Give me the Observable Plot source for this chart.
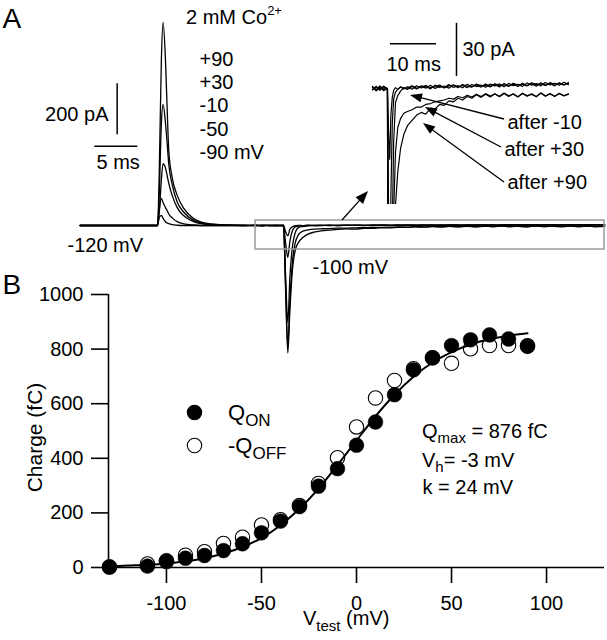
<!DOCTYPE html>
<html>
<head>
<meta charset="utf-8">
<script src="https://cdn.jsdelivr.net/npm/d3@7"></script>
<script src="https://cdn.jsdelivr.net/npm/@observablehq/plot@0.6"></script>
<style>
  html, body { margin: 0; padding: 0; background: #fff; }
  #fig { position: relative; width: 607px; height: 640px; overflow: hidden; }
  #fig svg { position: absolute; left: 0; top: 0; }
</style>
</head>
<body>
<div id="fig"></div>
<script>
// ---------------- DATA ----------------
// Panel A: gating current traces (time in ms from the ON step, current in pA)
const timeMs = [-9, -4, 0, 0.2, 0.45, 0.65, 0.93, 1.13, 1.31, 1.71, 2.29, 3.06, 4.2, 5.8, 8, 10,
  11.4, 12.2, 13.0, 13.8,
  14.65, 14.9, 15.15, 15.4, 15.7, 16.0, 16.4, 16.9, 17.5, 18.2,
  19, 20, 21, 22, 23, 24, 25, 26, 27, 28, 29, 30, 31, 32, 33, 34, 35, 36, 37, 38, 39, 40,
  41, 42, 43, 44, 45, 46, 47, 48, 49, 50, 51, 52, 53, 54];
const traceLabels = ["+90", "+30", "-10", "-50", "-90"];
const currentP90 = [0, 0, 0, 200, 650, 796, 647, 451, 294, 188, 118, 67, 27, 8, 2, 0.5,
  0.5, -1.2, 1.5, -0.8,
  0, -260, -500, -330, -170, -100, -66, -47, -34, -26,
  -21, -18, -15, -13.5, -14.5, -11, -11.5, -9, -9.5, -7, -7.5, -5.5, -6.5, -4.5, -5.5, -3.5, -5, -3.2,
  -4.8, -3, -4.6, -2.8, -4.5, -3, -4.8, -2.7, -4.4, -2.9, -4.7, -2.6, -4.3, -2.8, -4.5, -2.7, -4.2, -3];
const currentP30 = [0, 0, 0, 120, 400, 475, 400, 320, 240, 160, 92, 52, 20, 5, 1, 0,
  -0.8, 1.2, -1.0, 0.9,
  0, -240, -470, -290, -140, -70, -36, -22, -17, -14,
  -13, -12, -10.5, -10.5, -9, -8.5, -7.5, -7, -6.5, -5.5, -6, -4.5, -5.2, -3.8, -4.8, -3.2, -4.5, -2.9,
  -4.2, -3.1, -4.4, -2.6, -4.1, -3.2, -4.6, -2.8, -4, -3.3, -4.5, -2.5, -4.2, -3.1, -4.4, -2.9, -4, -3.3];
const currentM10 = [0, 0, 0, 50, 180, 243, 225, 195, 165, 118, 70, 38, 15, 4, 0.5, 0,
  1.2, -0.5, 0.8, -1.2,
  0, -200, -380, -200, -80, -30, -8, -4, -1.5, 0.5,
  -0.5, 1.2, -0.3, 1.5, 0.2, 1.8, 0, 1.3, 0.5, 2.2, 0.6, 1.6, 0.4, 2.4, 1.0, 2.0, 0.8, 2.6,
  1.2, 2.2, 0.9, 2.8, 1.4, 2.5, 1.1, 3.0, 1.6, 2.7, 1.3, 3.2, 1.8, 2.9, 1.5, 3.3, 2.0, 3.0];
const currentM50 = [0, 0, 0, 60, 106, 90, 70, 58, 45, 30, 15, 6, 2, 0, 0, 0,
  -0.6, 1.0, -0.4, 1.3,
  0, -70, -125, -60, -20, -6, -2, -0.5, 0.8, -0.3,
  1.0, -0.4, 1.6, 0.3, 1.2, -0.2, 1.9, 0.6, 1.4, 0.2, 2.1, 0.9, 1.7, 0.5, 2.3, 1.1, 1.9, 0.7,
  2.5, 1.4, 2.6, 1.0, 2.9, 1.6, 2.4, 1.2, 3.1, 1.9, 2.8, 1.5, 3.4, 2.0, 3.0, 1.8, 3.5, 2.2];
const currentM90 = [0, 0, 0, 30, 40, 28, 15, 10, 7, 3, 1, 0, 0, 0, 0, 0,
  0.9, -1.3, 0.4, -0.2,
  0, -25, -40, -15, -5, -1, 0.5, -0.5, 1, 0,
  0.2, 1.5, 0.1, 0.9, 1.7, 0.4, 1.1, 2.0, 0.3, 1.5, 1.8, 0.5, 2.2, 1.3, 0.8, 2.5, 1.5, 1.9,
  0.9, 2.7, 1.6, 2.1, 1.2, 3.0, 1.9, 2.4, 1.5, 3.2, 2.2, 2.6, 1.7, 3.3, 2.4, 2.9, 2.0, 3.4];

// Panel B: charge–voltage
const vTest = [-130, -110, -100, -90, -80, -70, -60, -50, -40, -30, -20, -10, 0, 10, 20, 30, 40, 50, 60, 70, 80, 90];
const qOn   = [2, 5, 25, 34, 44, 62, 87, 127, 170, 223, 298, 362, 448, 533, 633, 724, 768, 813, 834, 852, 837, 810];
const qOff  = [2, 13, 22, 45, 58, 88, 111, 156, 175, 227, 308, 402, 515, 621, 685, 728, 768, 748, 801, 813, 813, 812];
const fitV  = [-130, -120, -110, -100, -90, -80, -70, -60, -50, -40, -30, -20, -10, 0, 10, 20, 30, 40, 50, 60, 70, 80, 90];
const fitQ  = [4, 7, 10, 15, 23, 34, 51, 75, 108, 155, 215, 289, 375, 465, 554, 633, 699, 751, 789, 817, 836, 849, 858];
const xTicks = [-100, -50, 0, 50, 100];
const yTicks = [0, 200, 400, 600, 800, 1000];

// ---------------- HELPERS ----------------
const FONT = "'Liberation Sans', Arial, Helvetica, sans-serif";
const fig = document.getElementById("fig");
const put = (node) => { fig.appendChild(node); return node; };

const traces = [currentP90, currentP30, currentM10, currentM50, currentM90];
const rows = traces.flatMap((arr, k) => timeMs.map((t, i) => ({t, I: arr[i], v: traceLabels[k]})));
const qRows = vTest.map((v, i) => ({v, on: qOn[i], off: qOff[i]}));
const fitRows = fitV.map((v, i) => ({v, q: fitQ[i]}));

function richText(items) {
  return (index, scales) => {
    const sx = (scales && scales.x) || (v => v);
    const sy = (scales && scales.y) || (v => v);
    const g = d3.create("svg:g").attr("font-family", FONT).attr("fill", "black");
    for (const it of items) {
      const t = g.append("text").attr("x", sx(it.x)).attr("y", sy(it.y))
        .attr("font-size", it.size).attr("text-anchor", it.anchor || "start");
      let shift = 0;
      for (const p of it.parts) {
        const ts = t.append("tspan").text(p.s).attr("font-size", p.size || it.size);
        const target = p.dy || 0;
        if (target !== shift) { ts.attr("dy", target - shift); shift = target; }
      }
    }
    return g.node();
  };
}

function filledArrows(list) {
  return (index, scales) => {
    const sx = (scales && scales.x) || (v => v);
    const sy = (scales && scales.y) || (v => v);
    const g = d3.create("svg:g");
    for (const a of list) {
      const x1 = sx(a.x1), y1 = sy(a.y1), x2 = sx(a.x2), y2 = sy(a.y2);
      const dx = x2 - x1, dy = y2 - y1, L = Math.hypot(dx, dy);
      const ux = dx / L, uy = dy / L, h = a.head || 12, w = a.half || 4.5;
      const bx = x2 - ux * h, by = y2 - uy * h;
      g.append("line").attr("x1", x1).attr("y1", y1).attr("x2", bx + ux).attr("y2", by + uy)
        .attr("stroke", "black").attr("stroke-width", 1.3);
      g.append("polygon")
        .attr("points", `${x2},${y2} ${bx - uy * w},${by + ux * w} ${bx + uy * w},${by - ux * w}`)
        .attr("fill", "black");
    }
    return g.node();
  };
}

// ---------------- PANEL B ----------------
put(Plot.plot({
  width: 607, height: 640,
  marginLeft: 108, marginRight: 3, marginTop: 294, marginBottom: 73,
  x: {domain: [-130.5, 130.5]},
  y: {domain: [0, 1000]},
  style: {fontFamily: FONT, fontSize: "20px", background: "white", color: "black"},
  marks: [
    Plot.ruleY([0], {strokeWidth: 1.6}),
    Plot.ruleX([-130.5], {y1: 0, y2: 1000, strokeWidth: 1.6}),
    Plot.axisX({ticks: xTicks, tickSize: 16, tickPadding: 12, fontSize: 20, strokeWidth: 1.6,
      label: null, tickFormat: d => `${d}`}),
    Plot.axisY({ticks: yTicks, tickSize: 17, tickPadding: 8, fontSize: 20, strokeWidth: 1.6,
      label: null, tickFormat: d => `${d}`}),
    Plot.line(fitRows, {x: "v", y: "q", curve: "monotone-x", strokeWidth: 2, stroke: "black"}),
    Plot.dot(qRows, {x: "v", y: "off", r: 7.2, stroke: "black", strokeWidth: 1.1, fill: "none"}),
    Plot.dot(qRows, {x: "v", y: "on", r: 7.4, fill: "black", stroke: "black", strokeWidth: 0.5})
  ]
}));

// ---------------- PANEL A (main traces) ----------------
put(Plot.plot({
  width: 607, height: 360, margin: 0,
  x: {domain: [-18.256, 52.326], axis: null},
  y: {domain: [-529.4, 882.35], axis: null},
  style: {background: "transparent"},
  marks: [
    Plot.line(rows.filter(d => d.t <= 52), {x: "t", y: "I", z: "v", stroke: "black",
      strokeWidth: 1.3, curve: "monotone-x"}),
    // zoom window drawn over the OFF tail
    Plot.rect([0], {x1: 11.4, x2: 51.98, y1: -94.1, y2: 19.6, fill: "none", stroke: "#9a9a9a", strokeWidth: 1.5}),
    // scale bars: 200 pA and 5 ms
    Plot.ruleX([-4.69], {y1: 355.7, y2: 555.7, strokeWidth: 1.5}),
    Plot.ruleY([311], {x1: -7.29, x2: -2.29, strokeWidth: 1.5})
  ]
}));

// ---------------- PANEL A (inset) ----------------
put(Plot.plot({
  width: 607, height: 204, margin: 0,
  x: {domain: [-69.47, 62.49], axis: null},
  y: {domain: [-65.5, 49.7], axis: null},
  style: {background: "transparent"},
  marks: [
    Plot.line(rows.filter(d => d.t >= 11.4), {x: "t", y: "I", z: "v", stroke: "black",
      strokeWidth: 1.2, curve: "linear", clip: true}),
    // scale bars: 10 ms and 30 pA
    Plot.ruleY([25.3], {x1: 15.31, x2: 25.31, strokeWidth: 1.5}),
    Plot.ruleX([29.66], {y1: 6.8, y2: 36.8, strokeWidth: 1.5})
  ]
}));

// ---------------- ANNOTATIONS ----------------
const startLabels = [
  {s: "A", x: 2, y: 27, size: 28},
  {s: "B", x: 2, y: 293, size: 28},
  {s: "+90", x: 199, y: 65, size: 20},
  {s: "+30", x: 199, y: 88.3, size: 20},
  {s: "-10", x: 199, y: 111.6, size: 20},
  {s: "-50", x: 199, y: 135, size: 20},
  {s: "-90 mV", x: 199, y: 158.3, size: 20},
  {s: "5 ms", x: 96, y: 168, size: 20},
  {s: "-120 mV", x: 67, y: 251, size: 20},
  {s: "-100 mV", x: 312, y: 273, size: 20},
  {s: "10 ms", x: 386, y: 70, size: 20},
  {s: "30 pA", x: 462, y: 55, size: 20},
  {s: "after -10", x: 507, y: 128, size: 20},
  {s: "after +30", x: 504, y: 155, size: 20},
  {s: "after +90", x: 507, y: 188, size: 20},
  {s: "k = 24 mV", x: 422, y: 493, size: 20}
];
const endLabels = [
  {s: "200 pA", x: 108, y: 120, size: 20}
];
const legendItems = [{x: 194, y: 412, filled: true}, {x: 194, y: 445, filled: false}];

put(Plot.plot({
  width: 607, height: 640, margin: 0,
  x: {type: "identity", axis: null},
  y: {type: "identity", axis: null},
  style: {background: "transparent", fontFamily: FONT, color: "black"},
  marks: [
    Plot.dot(legendItems, {x: "x", y: "y", r: 7.2, stroke: "black", strokeWidth: 1.1,
      fill: d => d.filled ? "black" : "none"}),
    Plot.text(startLabels, {x: "x", y: "y", text: "s", fontSize: d => d.size,
      textAnchor: "start", lineAnchor: "bottom", fill: "black"}),
    Plot.text(endLabels, {x: "x", y: "y", text: "s", fontSize: d => d.size,
      textAnchor: "end", lineAnchor: "bottom", fill: "black"}),
    Plot.text(["Charge (fC)"], {x: () => 41.5, y: () => 437, text: d => d, rotate: -90,
      fontSize: 21, lineAnchor: "bottom", textAnchor: "middle", fill: "black"}),
    richText([
      {x: 186, y: 24, size: 20, parts: [{s: "2 mM Co"}, {s: "2+", size: 13, dy: -9}]},
      {x: 228, y: 420, size: 22, parts: [{s: "Q"}, {s: "ON", size: 17, dy: 6}]},
      {x: 228, y: 453, size: 22, parts: [{s: "-Q"}, {s: "OFF", size: 17, dy: 6}]},
      {x: 422, y: 438, size: 20, parts: [{s: "Q"}, {s: "max", size: 15, dy: 5}, {s: " = 876 fC"}]},
      {x: 422, y: 467, size: 20, parts: [{s: "V"}, {s: "h", size: 15, dy: 5}, {s: "= -3 mV"}]},
      {x: 303, y: 625, size: 20, parts: [{s: "V"}, {s: "test", size: 15, dy: 6}, {s: " (mV)"}]}
    ]),
    filledArrows([
      {x1: 342, y1: 220, x2: 368, y2: 191, head: 13, half: 5},
      {x1: 504, y1: 119, x2: 410, y2: 95},
      {x1: 501, y1: 147, x2: 425, y2: 107},
      {x1: 504, y1: 182, x2: 423, y2: 123}
    ])
  ]
}));
</script>
</body>
</html>
